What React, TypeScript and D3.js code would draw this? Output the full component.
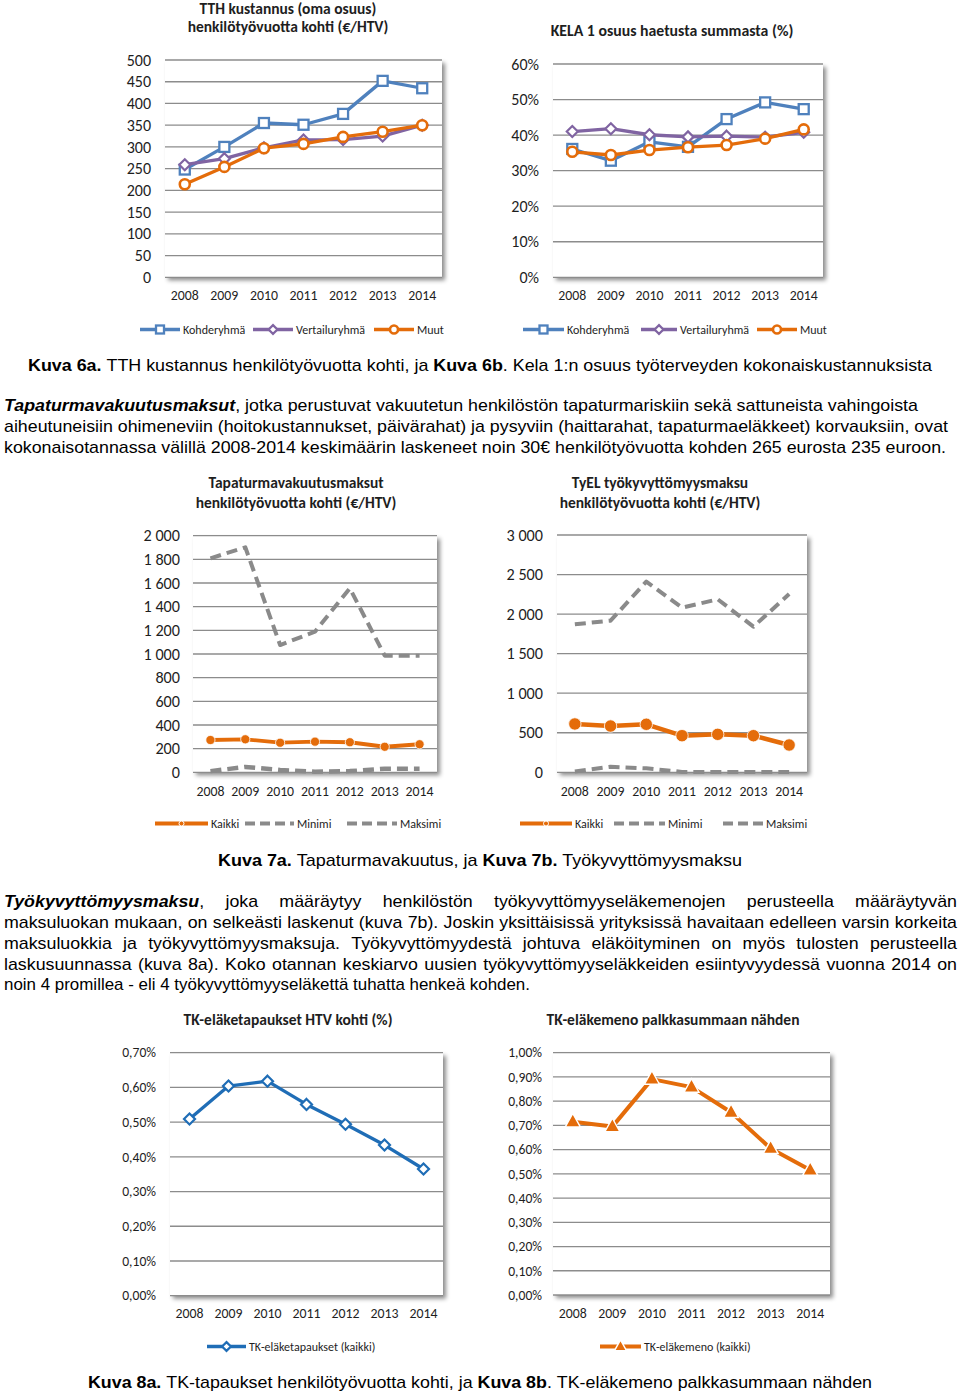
import React from 'react';
import * as d3 from 'd3';

// ---------- DATA ----------
const years = ['2008', '2009', '2010', '2011', '2012', '2013', '2014'];

// Kuva 6a: TTH kustannus (€/HTV)
const tthKohderyhma = [248, 300, 355, 351, 376, 452, 435];
const tthVertailuryhma = [259, 273, 298, 316, 317, 325, 350];
const tthMuut = [214, 254, 297, 307, 323, 335, 350];
const tthTicks = [0, 50, 100, 150, 200, 250, 300, 350, 400, 450, 500];

// Kuva 6b: KELA 1 osuus (%)
const kelaKohderyhma = [36.1, 32.8, 38.1, 36.7, 44.5, 49.2, 47.3];
const kelaVertailuryhma = [41.0, 41.8, 40.1, 39.5, 39.7, 39.4, 40.8];
const kelaMuut = [35.3, 34.4, 35.8, 36.6, 37.2, 39.0, 41.6];
const kelaTicks = [0, 10, 20, 30, 40, 50, 60];

// Kuva 7a: Tapaturmavakuutusmaksut (€/HTV)
const tapKaikki = [273, 279, 250, 259, 254, 216, 237];
const tapMinimi = [10, 45, 20, 5, 10, 30, 30];
const tapMaksimi = [1809, 1902, 1076, 1189, 1555, 986, 986];
const tapTicks = [0, 200, 400, 600, 800, 1000, 1200, 1400, 1600, 1800, 2000];

// Kuva 7b: TyEL työkyvyttömyysmaksu (€/HTV)
const tyelKaikki = [611, 585, 607, 463, 480, 463, 345];
const tyelMinimi = [10, 70, 50, 5, 5, 5, 5];
const tyelMaksimi = [1871, 1917, 2410, 2081, 2187, 1841, 2254];
const tyelTicks = [0, 500, 1000, 1500, 2000, 2500, 3000];

// Kuva 8a: TK-eläketapaukset HTV kohti (%)
const tkTapaukset = [0.509, 0.604, 0.618, 0.551, 0.494, 0.434, 0.365];
const tkTapauksetTicks = [0, 0.1, 0.2, 0.3, 0.4, 0.5, 0.6, 0.7];

// Kuva 8b: TK-eläkemeno palkkasummaan nähden (%)
const tkMeno = [0.715, 0.695, 0.891, 0.858, 0.754, 0.605, 0.516];
const tkMenoTicks = [0, 0.1, 0.2, 0.3, 0.4, 0.5, 0.6, 0.7, 0.8, 0.9, 1.0];

// Body text
const caption6 = '#Kuva 6a.# TTH kustannus henkilötyövuotta kohti, ja #Kuva 6b#. Kela 1:n osuus työterveyden kokonaiskustannuksista';
const para1 = [
  '*Tapaturmavakuutusmaksut*, jotka perustuvat vakuutetun henkilöstön tapaturmariskiin sekä sattuneista vahingoista',
  'aiheutuneisiin ohimeneviin (hoitokustannukset, päivärahat) ja pysyviin (haittarahat, tapaturmaeläkkeet) korvauksiin, ovat',
  'kokonaisotannassa välillä 2008-2014 keskimäärin laskeneet noin 30€ henkilötyövuotta kohden 265 eurosta 235 euroon.',
];
const caption7 = '#Kuva 7a.# Tapaturmavakuutus, ja #Kuva 7b.# Työkyvyttömyysmaksu';
const para2 = [
  '*Työkyvyttömyysmaksu*, joka määräytyy henkilöstön työkyvyttömyyseläkemenojen perusteella määräytyvän',
  'maksuluokan mukaan, on selkeästi laskenut (kuva 7b). Joskin yksittäisissä yrityksissä havaitaan edelleen varsin korkeita',
  'maksuluokkia ja työkyvyttömyysmaksuja. Työkyvyttömyydestä johtuva eläköityminen on myös tulosten perusteella',
  'laskusuunnassa (kuva 8a). Koko otannan keskiarvo uusien työkyvyttömyyseläkkeiden esiintyvyydessä vuonna 2014 on',
  'noin 4 promillea - eli 4 työkyvyttömyyseläkettä tuhatta henkeä kohden.',
];
const caption8 = '#Kuva 8a.# TK-tapaukset henkilötyövuotta kohti, ja #Kuva 8b#. TK-eläkemeno palkkasummaan nähden';

// ---------- STYLE ----------
const CHART_FONT = 'Carlito, Calibri, Lato, "Open Sans", sans-serif';
const BODY_FONT = '"Liberation Sans", Arial, Helvetica, sans-serif';
const BLUE = '#4F81BD';
const PURPLE = '#8064A2';
const ORANGE = '#E46C0A';
const GRAY = '#8A8A8A';
const DARKBLUE = '#1F6DB6';
const GRID = '#8C8C8C';
const TEXT = '#1e1e1e';
const BODY_SIZE = 17;

type Marker = 'square' | 'diamond' | 'circle' | 'dot' | 'triangle' | 'none';
type Series = {
  name: string;
  values: number[];
  color: string;
  width: number;
  dash?: string;
  marker: Marker;
  msize: number;
};
type ChartCfg = {
  id: string;
  left: number;
  right: number;
  top: number;
  bottom: number;
  ticks: number[];
  fmt: (v: number) => string;
  yLabelX: number;
  yFont: number;
  xLabelY: number;
  xFont: number;
  titleX: number;
  titleLines: { text: string; y: number }[];
  titleFont: number;
  legendY: number;
  legend: { x1: number; x2: number }[];
  series: Series[];
};

function MarkerShape({ kind, x, y, color, size, legend }: { kind: Marker; x: number; y: number; color: string; size: number; legend?: boolean }) {
  const s = legend ? size * 0.8 : size;
  switch (kind) {
    case 'square':
      return <rect x={x - s} y={y - s} width={2 * s} height={2 * s} fill="#fff" stroke={color} strokeWidth={2.3} />;
    case 'diamond':
      return (
        <polygon
          points={`${x},${y - s} ${x + s},${y} ${x},${y + s} ${x - s},${y}`}
          fill="#fff"
          stroke={color}
          strokeWidth={2.2}
        />
      );
    case 'circle':
      return <circle cx={x} cy={y} r={s} fill="#fff" stroke={color} strokeWidth={2.6} />;
    case 'dot':
      return <circle cx={x} cy={y} r={legend ? 2.5 : s} fill={color} stroke="#fff" strokeWidth={legend ? 1 : 0.8} />;
    case 'triangle': {
      const h = s * 1.8;
      return (
        <polygon
          points={`${x},${y - h * 0.62} ${x + s},${y + h * 0.38} ${x - s},${y + h * 0.38}`}
          fill={color}
          stroke="#fff"
          strokeWidth={1.4}
        />
      );
    }
    default:
      return null;
  }
}

function Chart({ cfg }: { cfg: ChartCfg }) {
  const x = d3.scaleBand<string>().domain(years).range([cfg.left, cfg.right]);
  const cx = (i: number) => (x(years[i]) as number) + x.bandwidth() / 2;
  const yMax = cfg.ticks[cfg.ticks.length - 1];
  const y = d3.scaleLinear().domain([0, yMax]).range([cfg.bottom, cfg.top]);
  const line = d3
    .line<number>()
    .x((_, i) => cx(i))
    .y((v) => y(v));

  return (
    <g fontFamily={CHART_FONT}>
      {cfg.titleLines.map((t, i) => (
        <text key={i} x={cfg.titleX} y={t.y} textAnchor="middle" fontWeight="bold" fontSize={cfg.titleFont} fill={TEXT}>
          {t.text}
        </text>
      ))}
      <rect
        x={cfg.left}
        y={cfg.top}
        width={cfg.right - cfg.left}
        height={cfg.bottom - cfg.top}
        fill="#fff"
        filter="url(#plotShadow)"
      />
      {cfg.ticks.map((t) => (
        <line key={t} x1={cfg.left} x2={cfg.right} y1={y(t)} y2={y(t)} stroke={GRID} strokeWidth={1.3} />
      ))}
      {cfg.ticks.map((t) => (
        <text key={'yl' + t} x={cfg.yLabelX} y={y(t)} dy="0.35em" textAnchor="end" fontSize={cfg.yFont} fill={TEXT}>
          {cfg.fmt(t)}
        </text>
      ))}
      {years.map((yr, i) => (
        <text key={yr} x={cx(i)} y={cfg.xLabelY} dy="0.35em" textAnchor="middle" fontSize={cfg.xFont} fill={TEXT}>
          {yr}
        </text>
      ))}
      {cfg.series.map((s) => (
        <g key={s.name}>
          <path
            d={line(s.values) || ''}
            fill="none"
            stroke={s.color}
            strokeWidth={s.width}
            strokeDasharray={s.dash}
            strokeLinejoin="round"
          />
          {s.values.map((v, i) => (
            <MarkerShape key={i} kind={s.marker} x={cx(i)} y={y(v)} color={s.color} size={s.msize} />
          ))}
        </g>
      ))}
      {cfg.series.map((s, i) => {
        const lg = cfg.legend[i];
        return (
          <g key={'lg' + s.name}>
            <line
              x1={lg.x1}
              x2={lg.x2}
              y1={cfg.legendY}
              y2={cfg.legendY}
              stroke={s.color}
              strokeWidth={Math.min(s.width, 4)}
              strokeDasharray={s.dash ? '10 5' : undefined}
            />
            <MarkerShape kind={s.marker} x={(lg.x1 + lg.x2) / 2} y={cfg.legendY} color={s.color} size={s.msize} legend />
            <text x={lg.x2 + 3} y={cfg.legendY} dy="0.35em" fontSize={12} fill={TEXT}>
              {s.name}
            </text>
          </g>
        );
      })}
    </g>
  );
}

const spaceFmt = (v: number) => d3.format(',')(v).replace(/,/g, '\u00a0');
const pctComma = (v: number) => v.toFixed(2).replace('.', ',') + '%';

const charts: ChartCfg[] = [
  {
    id: 'c6a', left: 165, right: 442, top: 60, bottom: 277.3, ticks: tthTicks,
    fmt: (v) => String(v), yLabelX: 151, yFont: 16, xLabelY: 295.5, xFont: 13.8,
    titleX: 288, titleLines: [{ text: 'TTH kustannus (oma osuus)', y: 13.5 }, { text: 'henkilötyövuotta kohti (€/HTV)', y: 32 }],
    titleFont: 15.5, legendY: 329.5,
    legend: [{ x1: 140, x2: 180 }, { x1: 253, x2: 293 }, { x1: 374, x2: 414 }],
    series: [
      { name: 'Kohderyhmä', values: tthKohderyhma, color: BLUE, width: 3.3, marker: 'square', msize: 5 },
      { name: 'Vertailuryhmä', values: tthVertailuryhma, color: PURPLE, width: 3.3, marker: 'diamond', msize: 5.5 },
      { name: 'Muut', values: tthMuut, color: ORANGE, width: 3.3, marker: 'circle', msize: 5 },
    ],
  },
  {
    id: 'c6b', left: 553, right: 823, top: 64, bottom: 277.3, ticks: kelaTicks,
    fmt: (v) => `${v}%`, yLabelX: 539, yFont: 16, xLabelY: 295.5, xFont: 13.8,
    titleX: 672, titleLines: [{ text: 'KELA 1 osuus haetusta summasta (%)', y: 36 }],
    titleFont: 15.8, legendY: 329.5,
    legend: [{ x1: 523, x2: 564 }, { x1: 641, x2: 677 }, { x1: 757, x2: 797 }],
    series: [
      { name: 'Kohderyhmä', values: kelaKohderyhma, color: BLUE, width: 3.3, marker: 'square', msize: 5 },
      { name: 'Vertailuryhmä', values: kelaVertailuryhma, color: PURPLE, width: 3.3, marker: 'diamond', msize: 5.5 },
      { name: 'Muut', values: kelaMuut, color: ORANGE, width: 3.3, marker: 'circle', msize: 5 },
    ],
  },
  {
    id: 'c7a', left: 193, right: 437, top: 535.7, bottom: 772.3, ticks: tapTicks,
    fmt: spaceFmt, yLabelX: 180, yFont: 16.2, xLabelY: 791, xFont: 13.8,
    titleX: 296, titleLines: [{ text: 'Tapaturmavakuutusmaksut', y: 488 }, { text: 'henkilötyövuotta kohti (€/HTV)', y: 508 }],
    titleFont: 15.5, legendY: 823.5,
    legend: [{ x1: 155, x2: 208 }, { x1: 245, x2: 294 }, { x1: 347, x2: 397 }],
    series: [
      { name: 'Kaikki', values: tapKaikki, color: ORANGE, width: 3.8, marker: 'dot', msize: 4.6 },
      { name: 'Minimi', values: tapMinimi, color: GRAY, width: 4.5, dash: '11 6', marker: 'none', msize: 0 },
      { name: 'Maksimi', values: tapMaksimi, color: GRAY, width: 4, dash: '11 6', marker: 'none', msize: 0 },
    ],
  },
  {
    id: 'c7b', left: 557, right: 807, top: 535, bottom: 772.3, ticks: tyelTicks,
    fmt: spaceFmt, yLabelX: 543, yFont: 16.2, xLabelY: 791, xFont: 13.8,
    titleX: 660, titleLines: [{ text: 'TyEL työkyvyttömyysmaksu', y: 488 }, { text: 'henkilötyövuotta kohti (€/HTV)', y: 508 }],
    titleFont: 15.5, legendY: 823.5,
    legend: [{ x1: 520, x2: 572 }, { x1: 614, x2: 665 }, { x1: 723, x2: 763 }],
    series: [
      { name: 'Kaikki', values: tyelKaikki, color: ORANGE, width: 4.5, marker: 'dot', msize: 6.2 },
      { name: 'Minimi', values: tyelMinimi, color: GRAY, width: 4, dash: '11 6', marker: 'none', msize: 0 },
      { name: 'Maksimi', values: tyelMaksimi, color: GRAY, width: 4, dash: '11 6', marker: 'none', msize: 0 },
    ],
  },
  {
    id: 'c8a', left: 170, right: 443, top: 1052.7, bottom: 1295.7, ticks: tkTapauksetTicks,
    fmt: pctComma, yLabelX: 156, yFont: 13.6, xLabelY: 1313, xFont: 13.8,
    titleX: 288, titleLines: [{ text: 'TK-eläketapaukset HTV kohti (%)', y: 1024.5 }],
    titleFont: 15.5, legendY: 1346.5,
    legend: [{ x1: 207, x2: 246 }],
    series: [
      { name: 'TK-eläketapaukset (kaikki)', values: tkTapaukset, color: DARKBLUE, width: 3.3, marker: 'diamond', msize: 5.5 },
    ],
  },
  {
    id: 'c8b', left: 553, right: 830, top: 1052.7, bottom: 1295, ticks: tkMenoTicks,
    fmt: pctComma, yLabelX: 542, yFont: 13.6, xLabelY: 1313, xFont: 13.8,
    titleX: 673, titleLines: [{ text: 'TK-eläkemeno palkkasummaan nähden', y: 1024.5 }],
    titleFont: 15.5, legendY: 1346.5,
    legend: [{ x1: 600, x2: 641 }],
    series: [
      { name: 'TK-eläkemeno (kaikki)', values: tkMeno, color: ORANGE, width: 4, marker: 'triangle', msize: 7.5 },
    ],
  },
];

// ---------- BODY TEXT ----------
type Run = { t: string; b: boolean; i: boolean };
let measureCtx: CanvasRenderingContext2D | null = null;
function fontStr(r: { b: boolean; i: boolean }, size: number) {
  return `${r.i ? 'italic ' : ''}${r.b ? 'bold ' : ''}${size}px "Liberation Sans", Arial, sans-serif`;
}
function measure(r: Run, size: number) {
  if (!measureCtx && typeof document !== 'undefined') {
    measureCtx = document.createElement('canvas').getContext('2d');
  }
  if (!measureCtx) return r.t.length * size * 0.5;
  measureCtx.font = fontStr(r, size);
  return measureCtx.measureText(r.t).width;
}
function parseWords(line: string): Run[][] {
  let b = false;
  let it = false;
  const words: Run[][] = [];
  let cur: Run[] = [];
  for (const ch of line) {
    if (ch === '*') { it = !it; continue; }
    if (ch === '#') { b = !b; continue; }
    if (ch === ' ') {
      if (cur.length) words.push(cur);
      cur = [];
      continue;
    }
    const bold = b || it;
    const last = cur[cur.length - 1];
    if (last && last.b === bold && last.i === it) last.t += ch;
    else cur.push({ t: ch, b: bold, i: it });
  }
  if (cur.length) words.push(cur);
  return words;
}
function naturalScale(line: string, avail: number, size: number) {
  const words = parseWords(line);
  const sum = words.reduce((a, w) => a + w.reduce((b, r) => b + measure(r, size), 0), 0);
  const sp = measure({ t: ' ', b: false, i: false }, size);
  return avail / (sum + sp * (words.length - 1));
}

function TextLine({ line, x0, x1, y, size, justify, scale }: { line: string; x0: number; x1: number; y: number; size: number; justify?: boolean; scale?: number }) {
  const words = parseWords(line);
  const avail = x1 - x0;
  const sp = measure({ t: ' ', b: false, i: false }, size);
  const widths = words.map((w) => w.reduce((a, r) => a + measure(r, size), 0));
  const total = widths.reduce((a, b) => a + b, 0);
  let s: number;
  let gap: number;
  if (justify && scale) {
    s = scale;
    gap = words.length > 1 ? (avail - total * s) / (words.length - 1) : 0;
  } else {
    s = avail / (total + sp * (words.length - 1));
    gap = sp * s;
  }
  const nodes: React.ReactNode[] = [];
  let cx = x0;
  words.forEach((w, wi) => {
    let rx = cx;
    w.forEach((r, ri) => {
      const rw = measure(r, size) * s;
      nodes.push(
        <text
          key={wi + '-' + ri}
          x={rx}
          y={y}
          fontWeight={r.b ? 'bold' : 'normal'}
          fontStyle={r.i ? 'italic' : 'normal'}
          textLength={rw}
          lengthAdjust="spacingAndGlyphs"
        >
          {r.t}
        </text>
      );
      rx += rw;
    });
    cx += widths[wi] * s + gap;
  });
  return (
    <g fontFamily={BODY_FONT} fontSize={size} fill="#000">
      {nodes}
    </g>
  );
}

const para1Layout = [
  { x1: 918, y: 411 },
  { x1: 948, y: 432 },
  { x1: 946, y: 453 },
];
const para2Layout = [
  { x1: 957, y: 907, j: true },
  { x1: 957, y: 928, j: true },
  { x1: 957, y: 949, j: true },
  { x1: 957, y: 969.5, j: true },
  { x1: 530, y: 990, j: false },
];

export default function App() {
  const baseScale = naturalScale(para1[2], 942, BODY_SIZE);
  return (
    <svg
      width={960}
      height={1394}
      viewBox="0 0 960 1394"
      style={{ position: 'absolute', left: 0, top: 0, background: '#fff' }}
    >
      <defs>
        <filter id="plotShadow" x="-5%" y="-5%" width="115%" height="115%">
          <feDropShadow dx="3" dy="3" stdDeviation="2" floodColor="#000" floodOpacity="0.45" />
        </filter>
      </defs>
      <rect x={0} y={0} width={960} height={1394} fill="#fff" />
      {charts.map((c) => (
        <Chart key={c.id} cfg={c} />
      ))}
      <TextLine line={caption6} x0={28} x1={932} y={371} size={BODY_SIZE} />
      {para1.map((l, i) => (
        <TextLine key={'p1' + i} line={l} x0={4} x1={para1Layout[i].x1} y={para1Layout[i].y} size={BODY_SIZE} />
      ))}
      <TextLine line={caption7} x0={218} x1={742} y={866} size={BODY_SIZE} />
      {para2.map((l, i) => (
        <TextLine
          key={'p2' + i}
          line={l}
          x0={4}
          x1={para2Layout[i].x1}
          y={para2Layout[i].y}
          size={BODY_SIZE}
          justify={para2Layout[i].j}
          scale={baseScale}
        />
      ))}
      <TextLine line={caption8} x0={88} x1={872} y={1388} size={BODY_SIZE} />
    </svg>
  );
}
